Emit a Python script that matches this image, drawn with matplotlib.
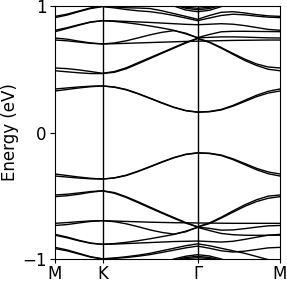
import numpy as np
import matplotlib
matplotlib.use("Agg")
import matplotlib.pyplot as plt

# high-symmetry path labels and segment lengths (hexagonal BZ: M-K, K-Gamma, Gamma-M)
tick_labels = ["M", "K", "Γ", "M"]
seg_lengths = [1 / 3, 2 / 3, 1 / np.sqrt(3)]
seg_points = [4, 8, 7]

# band energies (eV) sampled along the path (20 k-points)
B1a = [0.344,0.352,0.360,0.366,0.368, 0.360,0.340,0.308,0.272,0.235,0.200,0.174,0.162, 0.166,0.182,0.214,0.254,0.294,0.326,0.344]
B1b = [0.328,0.340,0.352,0.362,0.368, 0.358,0.337,0.305,0.269,0.232,0.198,0.172,0.160, 0.164,0.178,0.208,0.245,0.283,0.312,0.328]
B2a = [0.510,0.505,0.495,0.482,0.468, 0.482,0.512,0.552,0.592,0.632,0.672,0.712,0.745, 0.715,0.672,0.625,0.580,0.542,0.518,0.510]
B2b = [0.488,0.480,0.472,0.466,0.466, 0.476,0.504,0.544,0.585,0.626,0.667,0.707,0.743, 0.712,0.667,0.618,0.570,0.530,0.500,0.488]
B3 = [0.731,0.725,0.715,0.705,0.700, 0.702,0.705,0.708,0.711,0.714,0.717,0.720,0.722, 0.724,0.726,0.728,0.729,0.730,0.731,0.731]
B4 = [0.747,0.738,0.722,0.708,0.700, 0.708,0.725,0.748,0.772,0.792,0.805,0.785,0.748, 0.752,0.756,0.756,0.754,0.751,0.748,0.747]
B5a = [0.808,0.828,0.852,0.874,0.884, 0.882,0.878,0.874,0.870,0.865,0.860,0.855,0.852, 0.856,0.860,0.856,0.845,0.830,0.815,0.808]
B5b = [0.797,0.822,0.848,0.872,0.884, 0.878,0.868,0.856,0.842,0.826,0.808,0.780,0.750, 0.775,0.796,0.800,0.800,0.799,0.798,0.797]
B6a = [0.918,0.935,0.960,0.985,0.998, 0.992,0.986,0.984,0.980,0.962,0.940,0.918,0.895, 0.925,0.950,0.955,0.945,0.932,0.922,0.918]
B6b = [0.908,0.928,0.955,0.980,0.995, 0.985,0.972,0.962,0.955,0.942,0.925,0.905,0.884, 0.905,0.925,0.935,0.930,0.920,0.912,0.908]
B7a = [1.20,1.20,1.20,1.20,1.20, 1.18,1.15,1.12,1.08,1.04,1.000,0.968,0.955, 0.966,0.995,1.03,1.07,1.10,1.13,1.15]
B7b = [1.22,1.22,1.22,1.22,1.22, 1.20,1.17,1.13,1.09,1.05,1.010,0.982,0.970, 0.980,1.005,1.04,1.08,1.11,1.14,1.16]
B7c = [1.24,1.24,1.24,1.24,1.24, 1.22,1.19,1.15,1.10,1.06,1.020,0.990,0.982, 0.990,1.012,1.05,1.09,1.12,1.15,1.17]

L1a = [-0.344,-0.352,-0.360,-0.366,-0.368, -0.360,-0.340,-0.308,-0.272,-0.235,-0.200,-0.174,-0.162, -0.166,-0.182,-0.214,-0.254,-0.294,-0.326,-0.344]
L1b = [-0.328,-0.340,-0.352,-0.362,-0.368, -0.358,-0.337,-0.305,-0.269,-0.232,-0.198,-0.172,-0.160, -0.164,-0.178,-0.208,-0.245,-0.283,-0.312,-0.328]
L2a = [-0.494,-0.488,-0.478,-0.467,-0.460, -0.475,-0.508,-0.548,-0.590,-0.632,-0.672,-0.712,-0.745, -0.715,-0.670,-0.620,-0.572,-0.532,-0.503,-0.494]
L2b = [-0.507,-0.500,-0.488,-0.472,-0.462, -0.480,-0.514,-0.555,-0.597,-0.638,-0.678,-0.716,-0.748, -0.720,-0.677,-0.630,-0.584,-0.546,-0.520,-0.507]
L3 = [-0.718,-0.712,-0.705,-0.699,-0.697, -0.700,-0.703,-0.706,-0.709,-0.711,-0.713,-0.714,-0.715, -0.716,-0.717,-0.718,-0.718,-0.718,-0.718,-0.718]
L4 = [-0.735,-0.728,-0.715,-0.703,-0.697, -0.705,-0.722,-0.745,-0.770,-0.790,-0.803,-0.785,-0.748, -0.758,-0.772,-0.770,-0.760,-0.748,-0.738,-0.735]
L5a = [-0.805,-0.826,-0.852,-0.874,-0.884, -0.882,-0.878,-0.874,-0.870,-0.866,-0.862,-0.860,-0.858, -0.862,-0.866,-0.860,-0.845,-0.828,-0.812,-0.805]
L5b = [-0.812,-0.832,-0.856,-0.876,-0.884, -0.878,-0.868,-0.855,-0.840,-0.823,-0.806,-0.780,-0.750, -0.775,-0.798,-0.808,-0.812,-0.813,-0.812,-0.812]
L6a = [-0.908,-0.928,-0.955,-0.982,-0.998, -0.992,-0.982,-0.970,-0.955,-0.935,-0.915,-0.895,-0.880, -0.895,-0.915,-0.935,-0.955,-0.980,-1.005,-1.020]
L6b = [-0.918,-0.935,-0.960,-0.985,-1.000, -0.995,-0.988,-0.978,-0.965,-0.948,-0.930,-0.912,-0.898, -0.915,-0.935,-0.945,-0.938,-0.925,-0.912,-0.908]
L7a = [-1.20,-1.20,-1.20,-1.20,-1.20, -1.18,-1.15,-1.12,-1.08,-1.04,-1.000,-0.978,-0.966, -0.976,-1.000,-1.03,-1.07,-1.10,-1.13,-1.15]
L7b = [-1.22,-1.22,-1.22,-1.22,-1.22, -1.20,-1.17,-1.13,-1.09,-1.05,-1.010,-0.988,-0.979, -0.988,-1.008,-1.04,-1.08,-1.11,-1.14,-1.16]
L7c = [-1.24,-1.24,-1.24,-1.24,-1.24, -1.22,-1.19,-1.15,-1.10,-1.06,-1.020,-0.996,-0.990, -0.996,-1.015,-1.05,-1.09,-1.12,-1.15,-1.17]

bands = [B1a, B1b, B2a, B2b, B3, B4, B5a, B5b, B6a, B6b, B7a, B7b, B7c,
         L1a, L1b, L2a, L2b, L3, L4, L5a, L5b, L6a, L6b, L7a, L7b, L7c]

# k-path coordinates
nodes = np.concatenate([[0], np.cumsum(seg_lengths)])
k = [0.0]
for i, n in enumerate(seg_points):
    k.extend(np.linspace(nodes[i], nodes[i + 1], n + 1)[1:])
k = np.array(k)

fig = plt.figure(figsize=(2.87, 2.83), dpi=100)
ax = fig.add_axes([0.1916, 0.0848, 0.7840, 0.8940])
for b in bands:
    ax.plot(k, b, color="black", lw=1.0)
for x in nodes[1:-1]:
    ax.axvline(x, color="black", lw=1.0)
ax.set_xlim(nodes[0], nodes[-1])
ax.set_ylim(-1, 1)
ax.set_xticks(nodes)
ax.set_xticklabels(tick_labels, fontsize=12)
ax.set_yticks([-1, 0, 1])
ax.set_yticklabels(["−1", "0", "1"], fontsize=12)
ax.tick_params(axis="x", length=3, pad=1)
ax.tick_params(axis="y", length=3.5, pad=2.5)
ax.set_ylabel("Energy (eV)", fontsize=12, labelpad=2)
fig.savefig("out.png", dpi=100)
